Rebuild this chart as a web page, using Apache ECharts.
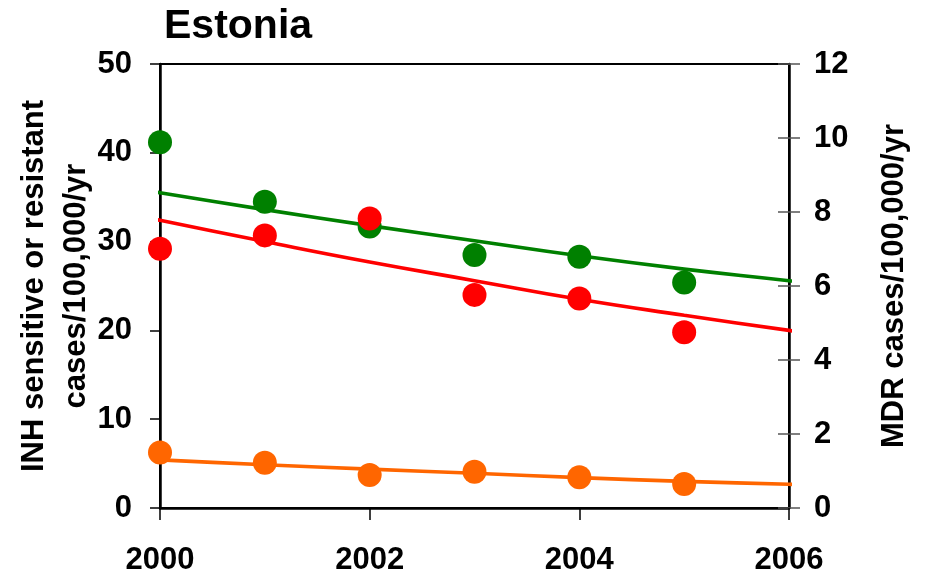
<!DOCTYPE html>
<html>
<head>
<meta charset="utf-8">
<script src="https://cdn.jsdelivr.net/npm/echarts@6/dist/echarts.min.js"></script>
<style>
  html, body { margin: 0; padding: 0; background: #fff; }
  #chart { width: 930px; height: 579px; }
</style>
</head>
<body>
<div id="chart"></div>
<script>
// observed years
const years = [2000, 2001, 2002, 2003, 2004, 2005];
// INH sensitive / resistant (left axis), MDR (right axis)
const sensitive = [41.2, 34.5, 31.7, 28.5, 28.3, 25.4];
const resistant = [29.2, 30.7, 32.6, 24.0, 23.6, 19.8];
const mdr = [1.50, 1.22, 0.89, 0.98, 0.83, 0.65];

// fitted trend lines
const trendYears = [1999.9, 2000, 2001, 2002, 2003, 2004, 2005, 2006, 2006.12];
const sensitiveTrend = [35.7, 35.5, 33.6, 31.8, 30.1, 28.4, 26.9, 25.6, 25.4];
const resistantTrend = [32.6, 32.4, 30.0, 27.7, 25.6, 23.5, 21.7, 20.0, 19.8];
const mdrTrend = [1.32, 1.30, 1.17, 1.05, 0.94, 0.82, 0.72, 0.64, 0.63];

const xTicks = [2000, 2002, 2004, 2006];

const pairs = (xs, ys) => xs.map((x, i) => [x, ys[i]]);

const GREEN = '#008000';
const RED = '#ff0000';
const ORANGE = '#ff6600';
const FONT = 'Liberation Sans, Arial, sans-serif';

const myChart = echarts.init(document.getElementById('chart'), null, { renderer: 'canvas' });

const trendLine = (name, data, color, yIdx) => ({
  name: name,
  type: 'line',
  yAxisIndex: yIdx,
  data: data,
  smooth: true,
  showSymbol: false,
  clip: false,
  lineStyle: { color: color, width: 3.6 },
  z: 2
});

const dots = (name, data, color, yIdx) => ({
  name: name,
  type: 'scatter',
  yAxisIndex: yIdx,
  data: data,
  symbolSize: 24,
  itemStyle: { color: color, opacity: 1 },
  z: 3
});

const option = {
  backgroundColor: '#fff',
  animation: false,
  title: {
    text: 'Estonia',
    left: 159,
    top: 1,
    textStyle: { fontFamily: FONT, fontSize: 41, fontWeight: 'bold', color: '#000' }
  },
  grid: {
    left: 160, right: 141, top: 64, bottom: 71,
    outerBoundsMode: 'none',
    containLabel: false,
    show: true,
    borderColor: '#000',
    borderWidth: 2
  },
  xAxis: {
    type: 'value',
    min: 2000,
    max: 2006,
    interval: 2,
    splitLine: { show: false },
    axisLine: { lineStyle: { color: '#000', width: 2.5 } },
    axisTick: { length: 12, lineStyle: { color: '#000', width: 1.5 } },
    axisLabel: {
      margin: 37,
      fontFamily: FONT, fontSize: 31, fontWeight: 'bold', color: '#000',
      customValues: xTicks,
      formatter: v => String(v)
    }
  },
  yAxis: [
    {
      type: 'value',
      position: 'left',
      min: 0, max: 50, interval: 10,
      name: 'INH sensitive or resistant\ncases/100,000/yr',
      nameLocation: 'middle',
      nameRotate: 90,
      nameGap: 63,
      nameMoveOverlap: false,
      nameTextStyle: { fontFamily: FONT, fontSize: 31, fontWeight: 'bold', color: '#000', lineHeight: 42, align: 'center' },
      splitLine: { show: false },
      axisLine: { show: true, lineStyle: { color: '#000', width: 2.5 } },
      axisTick: { length: 10, lineStyle: { color: '#000', width: 1.5 } },
      axisLabel: { margin: 28, fontFamily: FONT, fontSize: 31, fontWeight: 'bold', color: '#000' }
    },
    {
      type: 'value',
      position: 'right',
      min: 0, max: 12, interval: 2,
      name: 'MDR cases/100,000/yr',
      nameLocation: 'middle',
      nameRotate: 90,
      nameGap: 90,
      nameMoveOverlap: false,
      nameTextStyle: { fontFamily: FONT, fontSize: 31, fontWeight: 'bold', color: '#000' },
      splitLine: { show: false },
      axisLine: { show: true, lineStyle: { color: '#000', width: 2.5 } },
      axisTick: { inside: true, length: 11, lineStyle: { color: '#555', width: 1.5 } },
      axisLabel: { margin: 25, fontFamily: FONT, fontSize: 31, fontWeight: 'bold', color: '#000' }
    },
    {
      // outer half of the right-hand ticks
      type: 'value',
      position: 'right',
      min: 0, max: 12, interval: 2,
      splitLine: { show: false },
      axisLine: { show: false },
      axisTick: { length: 11, lineStyle: { color: '#555', width: 1.5 } },
      axisLabel: { show: false }
    }
  ],
  series: [
    trendLine('Sensitive trend', pairs(trendYears, sensitiveTrend), GREEN, 0),
    trendLine('Resistant trend', pairs(trendYears, resistantTrend), RED, 0),
    trendLine('MDR trend', pairs(trendYears, mdrTrend), ORANGE, 1),
    dots('INH sensitive', pairs(years, sensitive), GREEN, 0),
    dots('INH resistant', pairs(years, resistant), RED, 0),
    dots('MDR', pairs(years, mdr), ORANGE, 1)
  ]
};

myChart.setOption(option);
</script>
</body>
</html>
